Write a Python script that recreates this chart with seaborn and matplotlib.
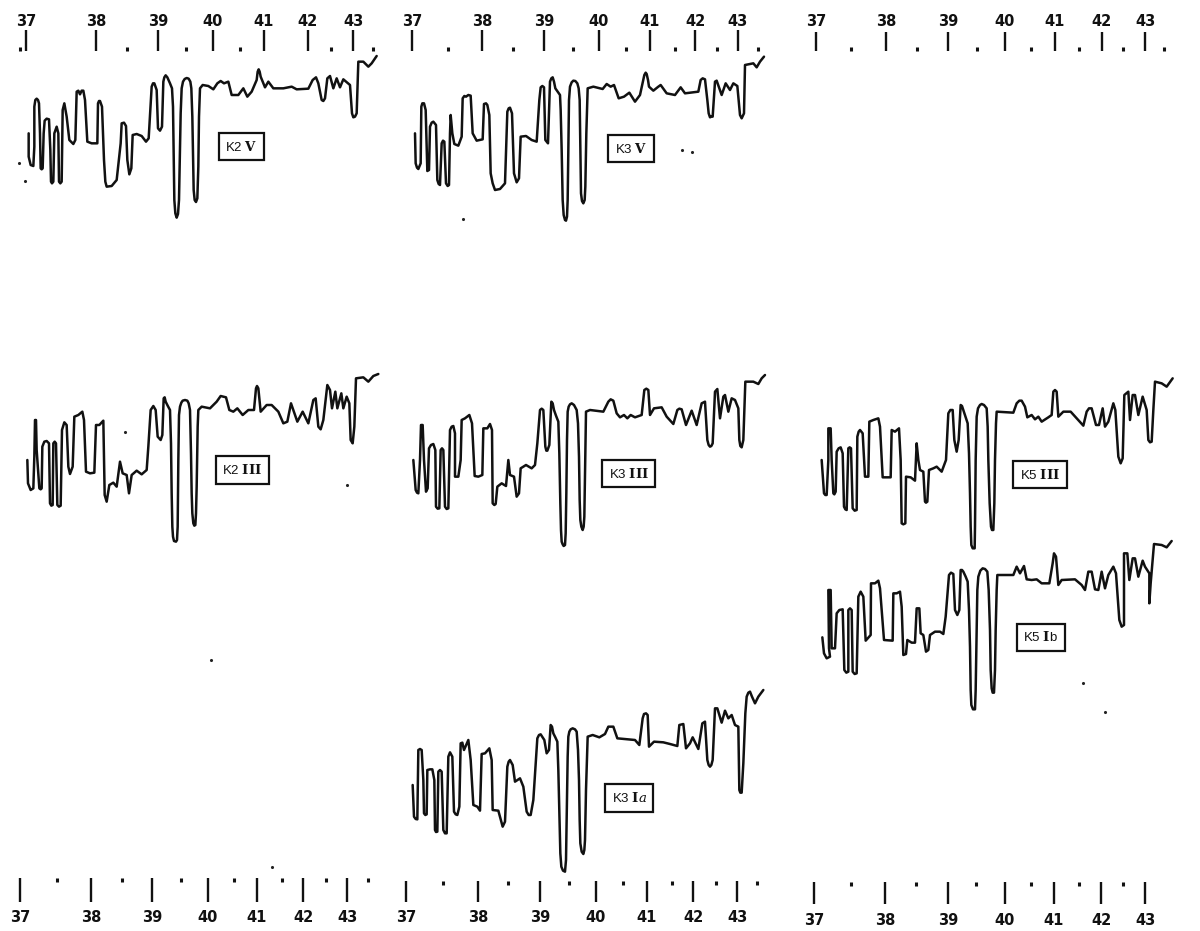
import pandas as pd
import seaborn as sns
import matplotlib.pyplot as plt

###################### DATA (trace readings, plate position / depth) ######################

x_k2v = [86,86,92,100,103,103,106,110,114,117,120,122,125,128,131,134,140,147,151,153,156,160,163,170,175,177,181,185,188,193,200,208,220,226,230,235,240,245,250,255,262,275,292,294,297,300,306,312,316,320,335,350,362,365,372,378,382,388,394,398,410,425,438,446,455,459,463,470,474,480,486,490,493,497,502,510,516,519,521,523,526,530,534,537,539,542,545,549,554,560,566,571,574,577,579,581,584,588,592,595,597,600,608,625,640,652,662,672,685,690,695,715,730,742,755,770,773,776,779,782,795,805,820,850,875,890,925,938,948,955,965,970,975,982,990,1000,1010,1020,1030,1050,1056,1060,1065,1070,1075,1090,1105,1115,1130]
y_k2v = [400,470,495,498,440,320,300,296,300,310,400,505,508,505,400,362,356,358,450,545,550,545,400,380,400,545,550,545,330,310,350,420,432,420,275,272,283,272,272,300,425,430,430,310,303,303,320,480,545,560,558,540,430,370,368,378,480,523,505,405,402,408,425,415,260,250,250,270,385,392,380,245,232,226,232,250,265,320,450,600,640,653,642,600,500,340,265,245,237,234,236,245,265,350,470,570,600,606,595,500,350,265,255,258,268,250,243,250,245,265,285,285,265,290,275,240,215,208,215,230,262,245,265,265,260,268,266,240,232,250,300,303,295,235,228,265,235,262,238,255,340,352,350,340,185,185,200,190,168]

x_k3v = [45,47,51,55,62,64,67,72,77,82,87,90,95,100,108,112,116,120,125,129,133,138,143,147,150,152,157,163,175,185,188,193,198,205,212,218,230,248,252,258,262,268,272,278,285,300,315,322,326,330,336,342,350,357,362,378,395,410,418,422,427,432,436,444,450,454,458,462,466,473,480,482,485,488,491,495,498,501,503,505,507,510,515,520,526,532,536,539,541,543,546,550,554,556,559,563,580,608,620,632,642,656,672,688,705,720,733,737,740,744,747,760,775,782,800,825,842,855,895,902,908,915,922,926,930,934,938,945,950,965,977,990,1000,1012,1020,1025,1032,1035,1060,1070,1080,1092]
y_k3v = [400,490,503,507,490,320,310,310,330,513,510,380,368,365,375,540,552,555,430,422,425,550,558,555,400,345,400,432,437,410,295,288,290,285,287,400,422,418,312,310,315,345,520,550,570,567,550,335,325,323,340,520,547,535,410,408,420,425,300,262,258,262,420,430,245,235,232,245,265,275,285,330,450,600,645,660,662,650,600,450,300,260,247,242,243,250,265,300,450,580,603,610,600,560,400,265,260,267,252,260,255,295,290,278,305,285,225,218,222,240,260,272,260,255,280,285,262,280,275,240,235,238,300,340,352,350,350,245,242,285,250,270,250,258,345,355,340,195,190,202,185,170]

x_k2iii = [82,84,92,100,103,105,108,110,118,122,125,127,133,140,147,150,154,158,160,164,168,172,177,182,186,193,200,205,210,218,223,235,247,252,258,270,283,288,298,310,314,320,328,340,350,360,368,380,387,395,410,425,440,445,452,460,467,473,482,487,491,494,497,503,510,513,515,517,519,522,528,531,533,535,537,540,544,548,555,562,566,570,573,575,577,580,583,586,588,590,593,595,605,630,650,662,678,688,700,712,728,745,762,768,771,775,782,800,815,835,850,862,873,885,892,908,925,940,947,955,962,970,982,990,996,1006,1012,1024,1030,1040,1048,1052,1058,1063,1068,1090,1105,1120,1135]
y_k2iii = [300,370,390,385,290,180,180,270,385,388,385,260,245,243,250,430,437,435,250,245,250,435,440,437,210,187,195,320,342,320,170,165,155,180,335,340,338,195,195,182,405,425,375,368,380,305,340,345,400,345,332,343,330,260,150,138,150,230,240,225,115,112,125,137,150,250,400,500,530,543,545,540,500,300,165,140,128,122,120,122,130,150,280,400,460,490,497,495,460,380,200,150,140,145,125,108,112,150,155,145,165,150,150,85,78,85,155,135,135,155,190,185,130,165,185,155,190,120,115,200,208,180,75,90,145,95,145,100,145,110,130,240,250,200,55,52,65,48,42]

x_k3iii = [40,47,51,55,60,63,68,72,78,83,87,93,100,106,108,113,118,122,126,130,135,140,145,150,155,160,165,165,175,182,185,195,208,216,224,235,247,250,262,270,276,278,283,287,292,305,318,325,330,342,350,357,362,378,395,405,412,420,425,430,436,439,442,448,454,458,462,468,475,478,481,483,485,488,491,495,497,499,501,503,506,510,515,522,530,534,537,539,541,544,548,551,553,555,558,570,610,625,632,640,650,660,672,682,692,705,725,733,739,745,750,762,785,800,820,832,838,845,858,875,890,905,915,922,926,930,934,938,945,952,960,970,975,985,995,1005,1015,1018,1021,1025,1030,1036,1060,1075,1085,1095]
y_k3iii = [300,390,398,400,300,195,195,300,395,385,265,255,252,270,440,446,445,270,265,270,440,447,445,210,200,198,220,350,350,300,180,175,165,190,348,350,345,205,205,192,210,430,435,432,380,370,378,300,345,350,410,400,325,315,325,315,250,150,146,150,260,272,272,255,125,130,150,167,185,280,430,510,545,553,558,555,520,400,240,155,140,133,130,135,150,190,290,420,480,500,510,500,470,350,155,150,155,125,118,122,160,172,165,175,165,172,165,90,86,90,165,145,142,170,192,150,146,148,195,152,195,130,125,240,255,260,258,250,95,87,175,110,105,155,115,120,145,240,258,262,240,65,65,72,55,45]

x_k5iii = [65,72,76,80,85,85,92,95,100,103,107,110,116,122,128,132,136,140,145,149,153,158,164,170,172,176,180,188,195,205,208,220,235,240,248,272,275,285,297,302,305,310,316,318,332,345,350,355,360,370,375,378,382,387,400,410,425,438,445,451,458,463,470,476,482,486,490,497,503,507,510,512,514,518,524,525,527,530,534,540,545,552,560,563,565,569,573,576,580,583,585,588,590,640,650,658,665,675,682,695,705,715,725,745,755,760,765,770,775,790,812,830,850,860,867,875,888,897,908,915,925,940,946,955,962,968,973,985,990,998,1005,1015,1028,1040,1045,1050,1055,1060,1065,1085,1100,1118]
y_k5iii = [300,400,405,405,300,205,205,300,400,403,395,275,265,262,280,440,448,450,265,262,265,445,452,450,230,215,210,220,350,350,185,180,175,200,352,352,210,215,205,300,490,493,490,350,352,362,250,300,330,335,425,428,425,330,325,320,335,300,160,150,150,240,275,240,135,138,150,170,190,280,400,500,555,565,565,500,300,170,145,135,132,135,145,200,300,430,500,510,510,430,300,190,155,158,130,122,122,140,172,165,178,170,185,172,165,95,90,95,170,155,155,175,197,155,145,145,195,195,145,200,185,130,150,290,310,295,105,95,180,105,105,165,110,150,240,247,245,150,65,70,80,55]

x_k5ib = [67,72,80,90,87,85,92,95,105,110,118,128,133,139,145,145,150,155,158,164,170,175,182,190,197,212,213,225,235,240,252,278,280,290,300,305,310,318,322,335,345,350,358,362,370,378,385,390,405,420,430,437,447,453,460,465,472,478,482,486,490,497,503,507,510,512,514,519,525,527,530,532,535,541,548,555,562,566,570,572,575,578,582,585,587,590,592,640,650,660,672,680,695,710,725,748,758,762,768,775,785,825,845,855,865,875,885,895,905,915,925,940,948,958,965,972,972,982,988,998,1005,1015,1028,1035,1048,1048,1052,1062,1085,1100,1115]
y_k5ib = [322,370,385,380,355,180,180,355,355,250,240,238,420,428,425,240,235,240,425,432,430,200,185,200,332,315,160,160,152,175,330,332,190,190,185,230,375,372,330,338,338,235,235,310,315,365,360,315,305,305,312,260,135,128,132,240,255,240,120,120,125,140,155,240,350,480,525,538,538,480,300,180,140,122,115,117,125,180,300,420,475,488,488,420,300,180,135,135,110,130,108,148,150,148,160,160,100,70,80,165,150,148,165,180,125,125,178,180,125,175,135,110,130,270,290,285,70,70,150,85,85,140,92,110,130,220,160,42,45,52,33]

x_k3ia = [38,42,47,52,55,60,65,70,72,76,80,82,90,97,103,105,108,112,115,120,125,130,135,140,145,150,157,162,167,172,178,182,187,192,205,212,220,232,240,245,255,268,275,278,295,308,315,322,326,330,338,345,360,370,380,386,392,400,412,417,422,433,440,447,452,456,460,466,472,475,478,481,484,489,495,498,501,503,505,508,512,518,525,530,534,537,539,541,545,550,553,555,558,563,578,598,615,625,640,652,685,705,718,728,732,738,743,747,762,790,810,832,838,850,858,870,878,895,907,915,922,926,930,934,938,945,952,965,975,985,995,1005,1015,1018,1021,1025,1030,1036,1040,1045,1050,1056,1065,1075,1090]
y_k3ia = [315,410,417,418,210,207,210,300,400,405,403,270,268,268,300,450,456,455,275,270,275,450,460,460,230,217,230,395,403,405,380,190,188,210,180,240,375,380,392,222,220,205,240,390,392,440,425,260,245,240,255,305,295,320,395,405,405,360,175,165,163,180,220,210,135,140,160,172,185,270,400,520,560,572,575,540,350,230,170,155,148,145,148,155,210,300,420,490,515,522,510,480,330,170,165,172,162,140,140,175,178,180,195,115,102,100,105,200,185,187,192,198,135,132,205,190,172,207,130,125,240,255,260,255,240,85,85,128,92,115,105,135,140,330,338,338,250,100,50,38,35,50,70,50,30]

# scale bars, positions along the page
major_top_l = [26,96,158,213,264,308,353]
minor_top_l = [20,127,186,240,331,373]
major_top_m = [412,482,544,599,650,695,738]
minor_top_m = [448,513,573,626,675,717,758]
major_top_r = [816,886,948,1005,1055,1102,1145]
minor_top_r = [851,917,977,1031,1079,1123,1164]
major_bot_l = [20,91,152,208,257,303,347]
minor_bot_l = [57,122,181,234,282,326,368]
major_bot_m = [406,478,540,596,647,693,737]
minor_bot_m = [443,508,569,623,672,716,757]
major_bot_r = [814,885,948,1005,1054,1101,1145]
minor_bot_r = [851,916,976,1031,1079,1123]
scale_labels = ["37","38","39","40","41","42","43"]

speck_x = [25,19,463,125,347,211,682,692,1083,1105,272]
speck_y = [181,163,219,432,485,660,150,152,683,712,867]

###################### SETUP ######################

W, H = 1200, 931
sns.set_theme(style="white")
plt.rcParams["font.family"] = ["Liberation Sans", "DejaVu Sans"]
plt.rcParams["mathtext.fontset"] = "dejavuserif"

fig = plt.figure(figsize=(W / 100, H / 100), dpi=100)


def page_axes(left, top, width, height):
    ax = fig.add_axes([left / W, 1 - (top + height) / H, width / W, height / H])
    ax.patch.set_alpha(0)
    return ax


def draw_trace(left, top, height, xs, ys, label, label_x, label_y):
    # readings were taken at 3x, so the axes run 3 units per page pixel
    ax = page_axes(left, top, 400, height)
    df = pd.DataFrame({"pos": xs, "depth": ys})
    sns.lineplot(data=df, x="pos", y="depth", sort=False, estimator=None, color="#111111",
                 lw=1.8, solid_joinstyle="round", solid_capstyle="round", ax=ax)
    ax.set_xlim(0, 1200)
    ax.set_ylim(height * 3, 0)
    ax.axis("off")
    ax.text(label_x, label_y, label, ha="center", va="center", fontsize=9.5, color="#111111",
            bbox=dict(boxstyle="square,pad=0.5", fc="white", ec="#111111", lw=1.6))


def draw_scale(major, minor, top, side, tick_len, pad):
    # thin strip on the full page width, axis line sits on the tick root
    ax = page_axes(0, top, W, 1)
    ax.set_xlim(0, W)
    ax.set_xticks(major, scale_labels)
    ax.set_xticks(minor, minor=True)
    ax.set_yticks([])
    sns.despine(ax=ax, left=True, right=True, top=True, bottom=True)
    ax.xaxis.set_ticks_position(side)
    ax.tick_params(axis="x", which="major", length=tick_len, width=1.7, color="#111111", pad=pad,
                   labelsize=10.5, labelcolor="#111111", direction="out")
    ax.tick_params(axis="x", which="minor", length=3.2, width=2.2, color="#111111", direction="out")
    for t in ax.get_xticklabels():
        t.set_fontweight("bold")
        t.set_fontfamily("DejaVu Sans")


###################### SCALES ######################

draw_scale(major_top_l, minor_top_l, 51, "top", 15, 1)
draw_scale(major_top_m, minor_top_m, 51, "top", 15, 1)
draw_scale(major_top_r, minor_top_r, 51, "top", 14, 1.5)
draw_scale(major_bot_l, minor_bot_l, 877, "bottom", 17, 6)
draw_scale(major_bot_m, minor_bot_m, 880, "bottom", 15, 6)
draw_scale(major_bot_r, minor_bot_r, 881, "bottom", 16, 6)

###################### TRACES ######################

draw_trace(0, 0, 240, x_k2v, y_k2v, r"K2 $\mathbf{V}$", 725, 440)
draw_trace(400, 0, 240, x_k3v, y_k3v, r"K3 $\mathbf{V}$", 693, 446)
draw_trace(0, 360, 200, x_k2iii, y_k2iii, r"K2 $\mathbf{III}$", 727, 330)
draw_trace(400, 360, 200, x_k3iii, y_k3iii, r"K3 $\mathbf{III}$", 686, 341)
draw_trace(800, 360, 200, x_k5iii, y_k5iii, r"K5 $\mathbf{III}$", 720, 344)
draw_trace(800, 530, 200, x_k5ib, y_k5ib, r"K5 $\mathbf{I}$b", 722, 322)
draw_trace(400, 680, 200, x_k3ia, y_k3ia, r"K3 $\mathbf{I}a$", 688, 354)

###################### SPECKS ######################

ax_page = page_axes(0, 0, W, H)
sns.scatterplot(x=speck_x, y=speck_y, s=5, color="#222222", linewidth=0, ax=ax_page)
ax_page.set_xlim(0, W)
ax_page.set_ylim(H, 0)
ax_page.axis("off")

fig.savefig("out.png", dpi=100, facecolor="white")
plt.close(fig)
